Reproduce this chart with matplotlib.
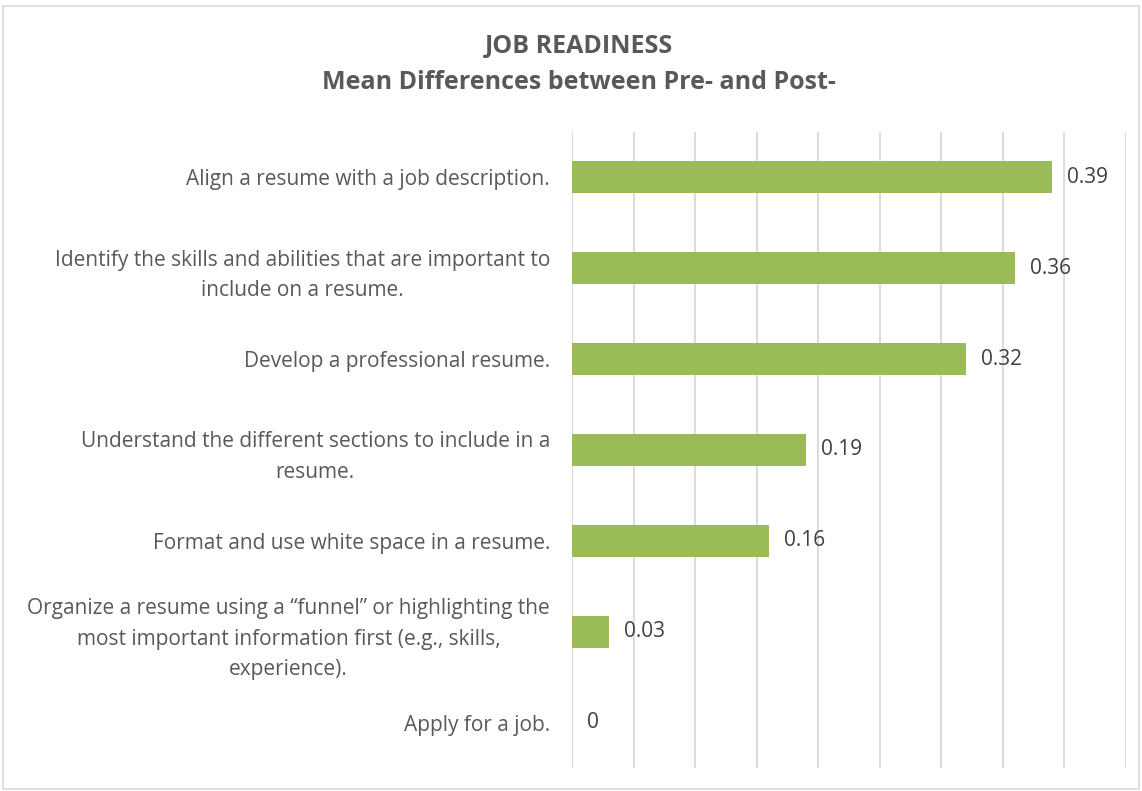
import matplotlib
matplotlib.use('Agg')
import matplotlib.pyplot as plt
from matplotlib.patches import Rectangle

items = [
    'Align a resume with a job description.',
    'Identify the skills and abilities that are important to\ninclude on a resume.',
    'Develop a professional resume.',
    'Understand the different sections to include in a\nresume.',
    'Format and use white space in a resume.',
    'Organize a resume using a \u201cfunnel\u201d or highlighting the\nmost important information first (e.g., skills,\nexperience).',
    'Apply for a job.',
]
mean_diff = [0.39, 0.36, 0.32, 0.19, 0.16, 0.03, 0]
grid_ticks = [0, 0.05, 0.10, 0.15, 0.20, 0.25, 0.30, 0.35, 0.40, 0.45]

text_color = '#595959'
bar_color = '#9BBB59'
grid_color = '#D9D9D9'

plt.rcParams['font.family'] = ['Open Sans', 'DejaVu Sans']

fig = plt.figure(figsize=(11.42, 7.91), dpi=100)
ax = fig.add_axes([0.501, 0.0287, 0.485, 0.8048])

ypos = list(range(len(items)))
ax.barh(ypos, mean_diff, height=0.35, color=bar_color, zorder=2)
for y, v in zip(ypos, mean_diff):
    ax.annotate(f'{v:g}', (v, y), xytext=(10.5, 0), textcoords='offset points',
                va='center', ha='left', fontsize=15, color='#404040', zorder=3)

ax.set_xlim(0, 0.45)
ax.set_ylim(len(items) - 0.5, -0.5)
ax.set_xticks(grid_ticks)
ax.set_xticklabels([])
ax.set_yticks(ypos)
ax.set_yticklabels(items, fontsize=15, color=text_color, ha='right',
                   multialignment='center', linespacing=1.6)
ax.tick_params(axis='both', length=0)
ax.tick_params(axis='y', pad=16)
ax.grid(axis='x', color=grid_color, linewidth=1.3, zorder=0)
for side in ax.spines.values():
    side.set_visible(False)

fig.text(0.507, 0.941, 'JOB READINESS', ha='center', va='center',
         fontsize=18, fontweight='bold', color=text_color)
fig.text(0.507, 0.896, 'Mean Differences between Pre- and Post-', ha='center',
         va='center', fontsize=18, fontweight='bold', color=text_color)

# light frame around the whole chart area
fig.patches.append(Rectangle((0.003, 0.003), 0.994, 0.99, transform=fig.transFigure,
                             fill=False, edgecolor=grid_color, linewidth=1.2))

fig.savefig('out.png', dpi=100)
